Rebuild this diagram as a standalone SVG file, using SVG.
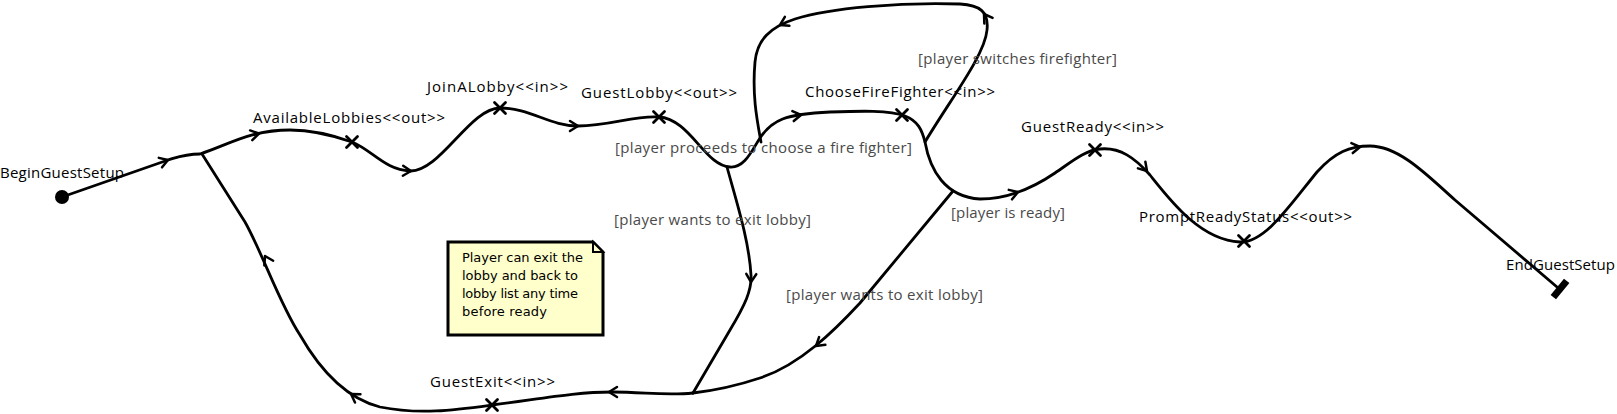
<svg xmlns="http://www.w3.org/2000/svg" xmlns:xlink="http://www.w3.org/1999/xlink" width="1617" height="414" viewBox="0 0 1617 414">
<style>
.ln{fill:none;stroke:#000;stroke-width:2.8;stroke-linecap:round;stroke-linejoin:round}
.lbl{font-family:"Open Sans","Liberation Sans",Arial,sans-serif;font-size:15px;fill:#000}
.grd{font-family:"Open Sans","Liberation Sans",Arial,sans-serif;font-size:15px;fill:#4a4a4a}
.nt{font-family:"DejaVu Sans","Liberation Sans",sans-serif;font-size:13px;fill:#000}
</style>
<defs>
<path id="arr" d="M-8,-5 L0,0 L-8,5" fill="none" stroke="#000" stroke-width="2.5" stroke-linecap="round" stroke-linejoin="round"/>
<path id="crs" d="M-5.5,-5.5 L5.5,5.5 M-5.5,5.5 L5.5,-5.5" fill="none" stroke="#000" stroke-width="2.8" stroke-linecap="round"/>
</defs>
<rect width="1617" height="414" fill="#fff"/>
<g id="connectors">
<path class="ln" d="M62,197 L168,160 C178,157 185,154 200,154 C228,145 250,130 290,130 C315,130 335,136 352,142 C372,150 385,170 410,171 C440,172 470,108 500,108 C530,108 550,126 578,126 C610,126 635,115 659,117 C690,119 705,166 730,167 C745,168 752,150 760,138 C772,120 785,114 830,112 C860,111 890,110 905,116 C918,121 922,130 925,142 C930,170 945,197 980,199 C1005,199 1030,190 1055,173 C1070,163 1085,150 1100,149 C1120,147 1135,158 1150,175 C1170,200 1200,240 1240,242 C1265,243 1290,205 1317,172 C1335,152 1350,146 1370,146 C1400,146 1430,178 1455,200 L1557,287"/>
<path class="ln" d="M925,142 C950,100 985,55 987,30 C989,12 980,5 960,4 C900,2 830,8 795,19 C770,27 757,40 755,62 C752,95 757,120 761,142"/>
<path class="ln" d="M202,154 L245,222 C262,252 280,305 300,335 C320,370 345,398 380,407 C420,415 455,410 492,405 C540,399 575,392 612,392 C645,392 665,396 693,393"/>
<path class="ln" d="M727,167 C736,200 749,240 751,275 C752,290 745,305 730,330 L693,393"/>
<path class="ln" d="M953,191 L860,303 C835,330 800,365 760,378 C730,388 710,391 693,393"/>
<use xlink:href="#arr" transform="translate(168,160) rotate(-19)"/>
<use xlink:href="#arr" transform="translate(259,133.5) rotate(-13)"/>
<use xlink:href="#arr" transform="translate(411,171) rotate(2)"/>
<use xlink:href="#arr" transform="translate(578,126) rotate(0)"/>
<use xlink:href="#arr" transform="translate(801,115) rotate(-8)"/>
<use xlink:href="#arr" transform="translate(984,14) rotate(-124)"/>
<use xlink:href="#arr" transform="translate(780,25) rotate(153)"/>
<use xlink:href="#arr" transform="translate(1018,192) rotate(-19)"/>
<use xlink:href="#arr" transform="translate(1147,171) rotate(48)"/>
<use xlink:href="#arr" transform="translate(1360,147) rotate(-8)"/>
<use xlink:href="#arr" transform="translate(751,282) rotate(92)"/>
<use xlink:href="#arr" transform="translate(816,346) rotate(141)"/>
<use xlink:href="#arr" transform="translate(609,392) rotate(180)"/>
<use xlink:href="#arr" transform="translate(351,394) rotate(213)"/>
<use xlink:href="#arr" transform="translate(265,256) rotate(-118)"/>
</g>
<g id="BeginGuestSetup">
<circle cx="62" cy="197" r="7" fill="#000"/>
<text class="lbl" x="0" y="178" textLength="124" lengthAdjust="spacing">BeginGuestSetup</text>
</g>
<g id="AvailableLobbies">
<use xlink:href="#crs" transform="translate(352,142)"/>
<text class="lbl" x="253" y="123" textLength="192" lengthAdjust="spacing">AvailableLobbies&lt;&lt;out&gt;&gt;</text>
</g>
<g id="JoinALobby">
<use xlink:href="#crs" transform="translate(500,108)"/>
<text class="lbl" x="427" y="92" textLength="141" lengthAdjust="spacing">JoinALobby&lt;&lt;in&gt;&gt;</text>
</g>
<g id="GuestLobby">
<use xlink:href="#crs" transform="translate(659,117)"/>
<text class="lbl" x="581" y="98" textLength="156" lengthAdjust="spacing">GuestLobby&lt;&lt;out&gt;&gt;</text>
</g>
<g id="ChooseFireFighter">
<use xlink:href="#crs" transform="translate(902,115)"/>
<text class="lbl" x="805" y="97" textLength="190" lengthAdjust="spacing">ChooseFireFighter&lt;&lt;in&gt;&gt;</text>
</g>
<g id="GuestReady">
<use xlink:href="#crs" transform="translate(1095,150)"/>
<text class="lbl" x="1021" y="132" textLength="143" lengthAdjust="spacing">GuestReady&lt;&lt;in&gt;&gt;</text>
</g>
<g id="PromptReadyStatus">
<use xlink:href="#crs" transform="translate(1244,241)"/>
<text class="lbl" x="1139" y="222" textLength="213" lengthAdjust="spacing">PromptReadyStatus&lt;&lt;out&gt;&gt;</text>
</g>
<g id="EndGuestSetup">
<rect x="-3.5" y="-10.5" width="7" height="21" fill="#000" transform="translate(1560,289) rotate(39.5)"/>
<text class="lbl" x="1506" y="270" textLength="109" lengthAdjust="spacing">EndGuestSetup</text>
</g>
<g id="GuestExit">
<use xlink:href="#crs" transform="translate(492,405)"/>
<text class="lbl" x="430" y="387" textLength="125" lengthAdjust="spacing">GuestExit&lt;&lt;in&gt;&gt;</text>
</g>
<g id="guards">
<text class="grd" x="918" y="64" textLength="199" lengthAdjust="spacing">[player switches firefighter]</text>
<text class="grd" x="615" y="153" textLength="297" lengthAdjust="spacing">[player proceeds to choose a fire fighter]</text>
<text class="grd" x="951" y="218" textLength="114" lengthAdjust="spacing">[player is ready]</text>
<text class="grd" x="614" y="225" textLength="197" lengthAdjust="spacing">[player wants to exit lobby]</text>
<text class="grd" x="786" y="300" textLength="197" lengthAdjust="spacing">[player wants to exit lobby]</text>
</g>
<g id="note">
<path d="M448,242 L593,242 L603,252 L603,335 L448,335 Z" fill="#ffffcc" stroke="#000" stroke-width="3"/>
<path d="M593,242 L593,252 L603,252 Z" fill="#ffffcc" stroke="#000" stroke-width="2"/>
<text class="nt" x="462" y="262" textLength="121" lengthAdjust="spacing">Player can exit the</text>
<text class="nt" x="462" y="280" textLength="116" lengthAdjust="spacing">lobby and back to</text>
<text class="nt" x="462" y="298" textLength="116" lengthAdjust="spacing">lobby list any time</text>
<text class="nt" x="462" y="316" textLength="85" lengthAdjust="spacing">before ready</text>
</g>
</svg>
